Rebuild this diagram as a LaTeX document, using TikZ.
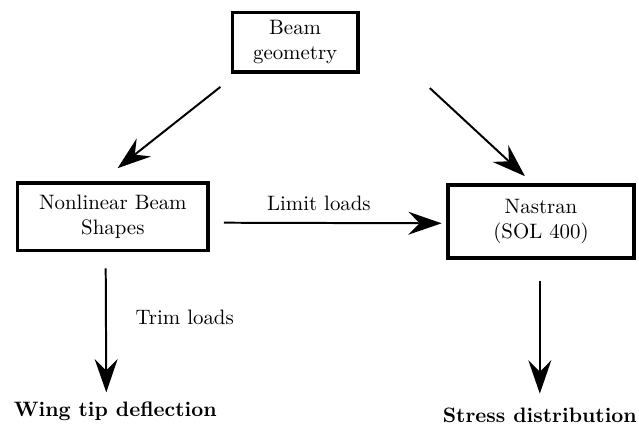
\documentclass[tikz,border=0pt]{standalone}
\usetikzlibrary{arrows.meta}

\begin{document}
\begin{tikzpicture}[
        block/.style={draw, line width=1.6pt, align=center, inner sep=2pt},
        result/.style={font=\bfseries, inner sep=0pt, anchor=base},
        flow/.style={-{Stealth[length=16pt, width=11pt, inset=5.5pt]}, line width=0.95pt}
    ]
            \useasboundingbox (0,0) rectangle (10.76,-7.26);
            % Blocks
            \node[block, minimum width=2.12cm, minimum height=1.01cm]
            (Beam) at (4.97,-0.71) {Beam\\geometry};
            \node[block, minimum width=3.20cm, minimum height=1.14cm]
            (Nonlinear) at (1.90,-3.65) {Nonlinear Beam\\Shapes};
            \node[block, minimum width=3.13cm, minimum height=1.23cm]
            (Nastran) at (9.11,-3.73) {Nastran\\(SOL 400)};
            % Results
            \foreach \name/\txt/\pos in {Deflection/Wing tip deflection/{(1.94,-7.02)},
                                          Stress/Stress distribution/{(9.09,-7.12)}} {
                \node[result] (\name) at \pos {\txt};
            }
            % Loads
            \node[anchor=base] (Limit) at (5.37,-3.55) {Limit loads};
            \node[anchor=base] (Trim) at (3.11,-5.47) {Trim loads};
            % Arrows
            \draw[flow] ([shift={(-0.17,-0.22)}]Beam.south west) -- ([shift={(0.08,0.22)}]Nonlinear.north);
            \draw[flow] ([shift={(1.18,-0.24)}]Beam.south east) -- ([shift={(-0.27,0.12)}]Nastran.north);
            \draw[flow] ([shift={(0.24,-0.10)}]Nonlinear.east) -- ([shift={(-0.08,-0.03)}]Nastran.west);
            \draw[flow] ([shift={(-0.12,-0.27)}]Nonlinear.south) -- ([shift={(-0.15,0.16)}]Deflection.north);
            \draw[flow] ([shift={(-0.02,-0.35)}]Nastran.south) -- ([shift={(0,0.24)}]Stress.north);
        \end{tikzpicture}
\end{document}
